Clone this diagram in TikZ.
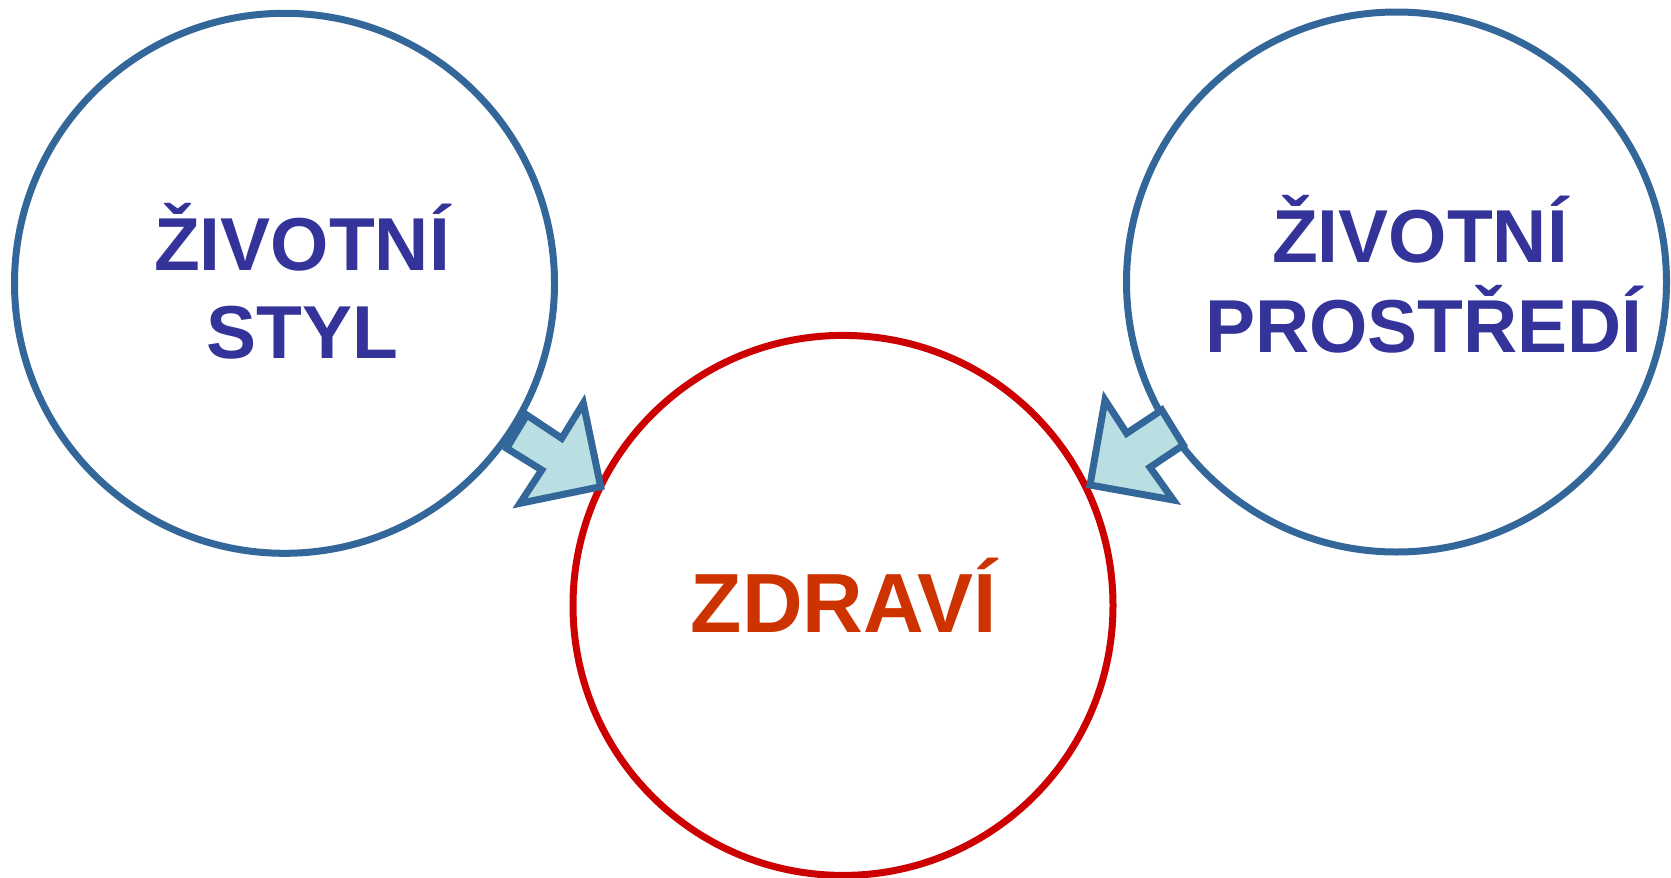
\documentclass[tikz,border=0pt]{standalone}
\usepackage{fontspec}
\setmainfont{Liberation Sans}
\definecolor{ringblue}{RGB}{51,102,153}
\definecolor{ringred}{RGB}{204,0,0}
\definecolor{labelblue}{RGB}{51,51,153}
\definecolor{labelred}{RGB}{204,51,0}
\definecolor{arrowfill}{RGB}{185,223,227}
\tikzset{
  ring/.style={circle, draw=#1, line width=7pt, minimum size=540pt, inner sep=0pt, fill=white},
  bluelabel/.style={anchor=base, text=labelblue, font=\fontsize{75}{88}\selectfont\bfseries, inner sep=0pt},
  redlabel/.style={anchor=base, text=labelred, font=\fontsize{84}{96}\selectfont\bfseries, inner sep=0pt},
  blockarrow/.style={draw=ringblue, fill=arrowfill, line width=7pt, line join=miter}
}
\begin{document}
\begin{tikzpicture}[x=1pt,y=-1pt]
\useasboundingbox (0,0) rectangle (1671,878);
% three rings
\node[ring=ringblue] (styl) at (284.5,283.3) {};
\node[ring=ringblue] (prostredi) at (1396.5,282) {};
\node[ring=ringred] (zdravi) at (843,605.4) {};
% labels
\node[bluelabel] (stylA) at (302,270) {ŽIVOTNÍ};
\node[bluelabel] (stylB) at (302,358) {STYL};
\node[bluelabel] (prostrediA) at (1420,262) {ŽIVOTNÍ};
\node[bluelabel] (prostrediB) at (1424,352) {PROSTŘEDÍ};
\node[redlabel] (zdraviA) at (844,632) {ZDRAVÍ};
% block arrow from the left ring into the centre ring
\draw[blockarrow] (526.7,415) -- (561.7,438.3) -- (583.3,403.3) -- (600.7,486.7)
  -- (520,503.3) -- (541.7,470) -- (506.7,448.3) -- cycle;
% block arrow from the right ring into the centre ring
\draw[blockarrow] (1161.7,410) -- (1126.7,433.3) -- (1105,400) -- (1090,485)
  -- (1173.3,500) -- (1150,467.3) -- (1183.3,445) -- cycle;
\end{tikzpicture}
\end{document}
